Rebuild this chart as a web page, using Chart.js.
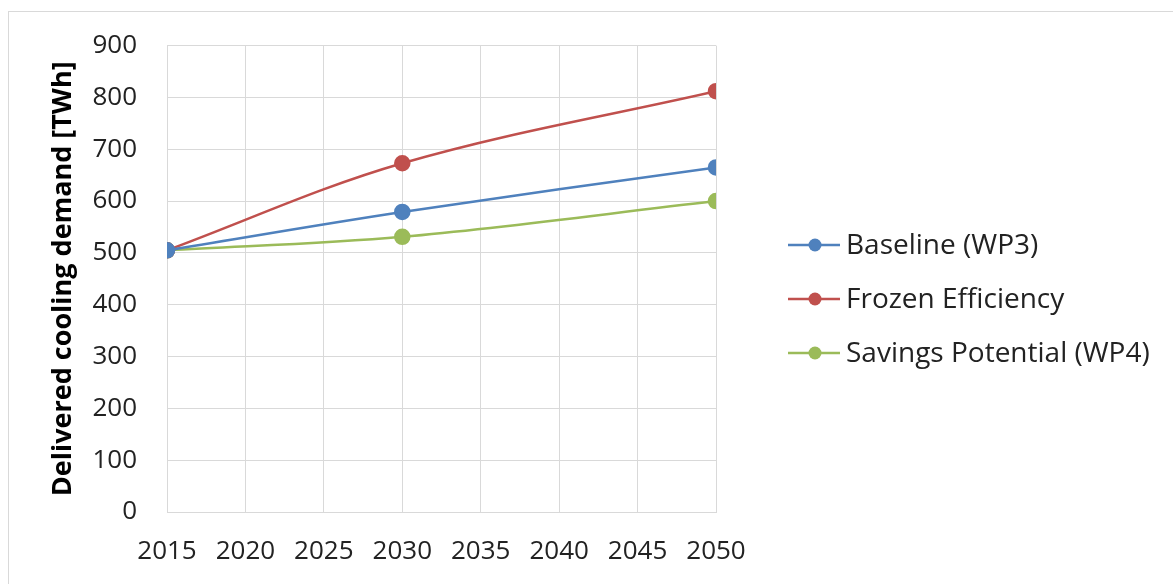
<!DOCTYPE html>
<html>
<head>
<meta charset="utf-8">
<script src="https://cdn.jsdelivr.net/npm/chart.js@4"></script>
<style>
  html, body { margin: 0; padding: 0; background: #fff; overflow: hidden; }
  #frame { position: absolute; left: 8px; top: 11px; width: 1170px; height: 600px; border: 1px solid #d9d9d9; box-sizing: border-box; }
  #wrap { position: absolute; left: 0; top: 0; width: 1173px; height: 584px; }
</style>
</head>
<body>
<div id="frame"></div>
<div id="wrap"><canvas id="coolChart" width="1173" height="584"></canvas></div>
<script>
// data
var years = [2015, 2030, 2050];
var baseline = [505, 579, 665];
var frozen = [505, 673, 812];
var savings = [505, 531, 600];
var seriesNames = ['Baseline (WP3)', 'Frozen Efficiency', 'Savings Potential (WP4)'];
var seriesColors = ['#4f81bd', '#c0504d', '#9bbb59'];

var fontFam = "'Open Sans', 'DejaVu Sans', sans-serif";

function toPoints(arr) {
  var out = [];
  for (var i in arr) {
    out.push({ x: years[i], y: arr[i] });
  }
  return out;
}

// 범례 (line + dot, Excel style) drawn next to the plot
const sideLegend = {
  id: 'sideLegend',
  afterDraw: function (chart) {
    var g = chart.ctx;
    var x0 = chart.chartArea.right + 72;
    var y0 = 245;
    var gap = 54;
    g.save();
    g.font = '28px ' + fontFam;
    g.textBaseline = 'middle';
    chart.data.datasets.forEach(function (ds, i) {
      var y = y0 + i * gap;
      g.strokeStyle = ds.borderColor;
      g.lineWidth = 2.5;
      g.beginPath();
      g.moveTo(x0, y);
      g.lineTo(x0 + 52, y);
      g.stroke();
      g.fillStyle = ds.borderColor;
      g.beginPath();
      g.arc(x0 + 27, y, 6.5, 0, Math.PI * 2);
      g.fill();
      g.fillStyle = '#222';
      g.fillText(ds.label, x0 + 58, y + 1);
    });
    g.restore();
  }
};

var allSeries = [baseline, frozen, savings];
var datasets = [];
for (var s = 0; s < allSeries.length; s++) {
  datasets.push({
    label: seriesNames[s],
    data: toPoints(allSeries[s]),
    borderColor: seriesColors[s],
    backgroundColor: seriesColors[s],
    borderWidth: 2.5,
    pointRadius: 7,
    pointHoverRadius: 7,
    tension: 0.35
  });
}

const ctx = document.getElementById('coolChart').getContext('2d');
const myChart = new Chart(ctx, {
  type: 'line',
  data: { datasets: datasets },
  plugins: [sideLegend],
  options: {
    responsive: false,
    animation: false,
    layout: { padding: { left: 47, top: 26, right: 457, bottom: 17 } },
    plugins: {
      tooltip: { enabled: false },
      legend: { display: false }
    },
    scales: {
      x: {
        type: 'linear',
        min: 2015,
        max: 2050,
        grid: { color: '#d9d9d9', drawTicks: false },
        border: { color: '#d9d9d9' },
        afterFit: function (scale) { scale.height = 55; },
        ticks: {
          stepSize: 5,
          padding: 24,
          maxRotation: 0,
          color: '#222',
          font: { family: fontFam, size: 26 },
          callback: function (v) { return String(v); }
        }
      },
      y: {
        min: 0,
        max: 900,
        grid: { color: '#d9d9d9', drawTicks: false },
        border: { color: '#d9d9d9' },
        afterFit: function (scale) { scale.width = 120; },
        ticks: {
          stepSize: 100,
          padding: 30,
          color: '#222',
          font: { family: fontFam, size: 26 }
        },
        title: {
          display: true,
          text: 'Delivered cooling demand [TWh]',
          color: '#000',
          padding: { top: 0, bottom: 13 },
          font: { family: fontFam, size: 27, weight: 'bold' }
        }
      }
    }
  }
});
</script>
</body>
</html>
